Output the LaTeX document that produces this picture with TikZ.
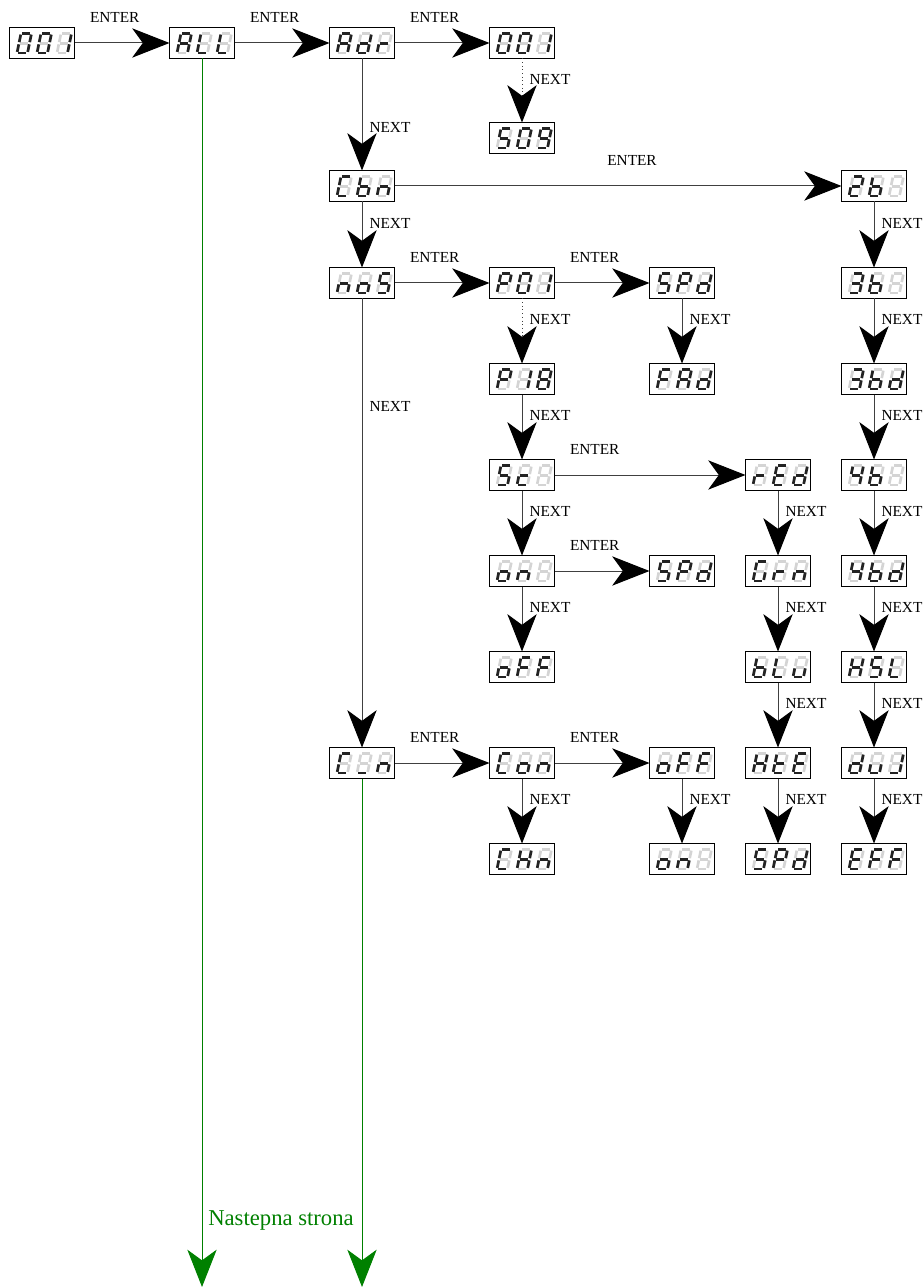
\documentclass[tikz,border=0pt]{standalone}
\usepackage{fontspec}
\setmainfont{Liberation Serif}
\usetikzlibrary{arrows.meta}

\definecolor{segdark}{RGB}{35,35,35}
\definecolor{seglight}{RGB}{212,212,212}
\definecolor{pagegreen}{RGB}{0,128,0}

\tikzset{
  disp/.style={draw=black, line width=1.1pt, fill=white, minimum width=48.75pt,
    minimum height=23.25pt, inner sep=0pt, outer sep=0pt},
  segoff/.style={draw=seglight, line width=2pt, shorten >=0.85pt, shorten <=0.85pt},
  segon/.style={segoff, draw=segdark},
  conn/.style={draw=black!75, line width=0.75pt,
    -{Stealth[length=28pt, width=22pt, inset=8pt, color=black]}},
  dotconn/.style={conn, dotted},
  pageconn/.style={draw=pagegreen, line width=0.75pt,
    -{Stealth[length=28pt, width=22pt, inset=8pt, color=pagegreen]}},
  lbl/.style={font=\fontsize{11.5}{13}\selectfont, inner sep=0pt},
  enterlbl/.style={lbl, pos=0, anchor=west, xshift=11.25pt, yshift=19.5pt},
  nextlbl/.style={lbl, anchor=west, xshift=5.25pt, pos=#1},
  nextlbl/.default=0.33
}

% one slanted seven segment digit, #1 = x of lower left, #2 = lit segments
\newcommand{\segdigit}[2]{%
  \coordinate (a1) at ({#1+4},6);      \coordinate (a2) at ({#1+14.5},6);
  \coordinate (b1) at ({#1+14.5},6);   \coordinate (b2) at ({#1+12.5},15.75);
  \coordinate (c1) at ({#1+12.5},15.75);\coordinate (c2) at ({#1+10.5},25.5);
  \coordinate (d1) at (#1,25.5);       \coordinate (d2) at ({#1+10.5},25.5);
  \coordinate (e1) at ({#1+2},15.75);  \coordinate (e2) at (#1,25.5);
  \coordinate (f1) at ({#1+4},6);      \coordinate (f2) at ({#1+2},15.75);
  \coordinate (g1) at ({#1+2},15.75);  \coordinate (g2) at ({#1+12.5},15.75);
  \foreach \s in {a,...,g} \draw[segoff] (\s1) -- (\s2);
  \foreach \s in {#2} {\ifx\s\empty\else\draw[segon] (\s1) -- (\s2);\fi}%
}

% display box with three digits
\newcommand{\dispbox}[5]{%
  \node[disp] (#1) at (#2) {};
  \begin{scope}[shift={(#1.north west)}]
    \segdigit{7.5}{#3}\segdigit{27.5}{#4}\segdigit{47.5}{#5}
  \end{scope}}

\begin{document}
\begin{tikzpicture}[x=0.75pt, y=-0.75pt]
\useasboundingbox (0,0) rectangle (923,1287);

% top row
\dispbox{b001a}{42,43}{a,b,c,d,e,f}{a,b,c,d,e,f}{b,c}
\dispbox{bALL}{202,43}{a,b,c,e,f,g}{d,e,f}{d,e,f}
\dispbox{bAdr}{362,43}{a,b,c,e,f,g}{b,c,d,e,g}{e,g}
\dispbox{b001b}{522,43}{a,b,c,d,e,f}{a,b,c,d,e,f}{b,c}
\dispbox{bS09}{522,138}{a,c,d,f,g}{a,b,c,d,e,f}{a,b,c,d,f,g}

% main column
\dispbox{bCbn}{362,186}{a,d,e,f}{c,d,e,f,g}{c,e,g}
\dispbox{bnoS}{362,283}{c,e,g}{c,d,e,g}{a,c,d,f,g}
\dispbox{bCln}{362,763}{a,d,e,f}{d}{c,e,g}

% presets
\dispbox{bP01}{522,283}{a,b,e,f,g}{a,b,c,d,e,f}{b,c}
\dispbox{bSPda}{682,283}{a,c,d,f,g}{a,b,e,f,g}{b,c,d,e,g}
\dispbox{bP18}{522,379}{a,b,e,f,g}{b,c}{a,b,c,d,e,f,g}
\dispbox{bFAd}{682,379}{a,e,f,g}{a,b,c,e,f,g}{b,c,d,e,g}
\dispbox{bSc}{522,475}{a,c,d,f,g}{d,e,g}{}
\dispbox{bon}{522,571}{c,d,e,g}{c,e,g}{}
\dispbox{bSPdb}{682,571}{a,c,d,f,g}{a,b,e,f,g}{b,c,d,e,g}
\dispbox{boFFa}{522,667}{c,d,e,g}{a,e,f,g}{a,e,f,g}

% colours
\dispbox{brEd}{778,475}{e,g}{a,d,e,f,g}{b,c,d,e,g}
\dispbox{bGrn}{778,571}{a,c,d,e,f}{e,g}{c,e,g}
\dispbox{bbLu}{778,667}{c,d,e,f,g}{d,e,f}{c,d,e}
\dispbox{bHtE}{778,763}{b,c,e,f,g}{d,e,f,g}{a,d,e,f,g}
\dispbox{bSPdc}{778,859}{a,c,d,f,g}{a,b,e,f,g}{b,c,d,e,g}

% modes
\dispbox{b2b}{874,186}{a,b,d,e,g}{c,d,e,f,g}{}
\dispbox{b3b}{874,283}{a,b,c,d,g}{c,d,e,f,g}{}
\dispbox{b3bd}{874,379}{a,b,c,d,g}{c,d,e,f,g}{b,c,d,e,g}
\dispbox{b4b}{874,475}{b,c,f,g}{c,d,e,f,g}{}
\dispbox{b4bd}{874,571}{b,c,f,g}{c,d,e,f,g}{b,c,d,e,g}
\dispbox{bHSL}{874,667}{b,c,e,f,g}{a,c,d,f,g}{d,e,f}
\dispbox{bdUJ}{874,763}{b,c,d,e,g}{c,d,e}{b,c,d}
\dispbox{bEFF}{874,859}{a,d,e,f,g}{a,e,f,g}{a,e,f,g}

% channel
\dispbox{bCon}{522,763}{a,d,e,f}{c,d,e,g}{c,e,g}
\dispbox{bCHn}{522,859}{a,d,e,f}{b,c,e,f,g}{c,e,g}
\dispbox{boFFb}{682,763}{c,d,e,g}{a,e,f,g}{a,e,f,g}
\dispbox{bonb}{682,859}{c,d,e,g}{c,e,g}{}

% ENTER
\draw[conn] (b001a) -- node[enterlbl] {ENTER} (bALL);
\draw[conn] (bALL) -- node[enterlbl] {ENTER} (bAdr);
\draw[conn] (bAdr) -- node[enterlbl] {ENTER} (b001b);
\draw[conn] (bCbn) -- node[lbl, pos=0.5, xshift=10.5pt, yshift=19.5pt] {ENTER} (b2b);
\draw[conn] (bnoS) -- node[enterlbl] {ENTER} (bP01);
\draw[conn] (bP01) -- node[enterlbl] {ENTER} (bSPda);
\draw[conn] (bSc) -- node[enterlbl] {ENTER} (brEd);
\draw[conn] (bon) -- node[enterlbl] {ENTER} (bSPdb);
\draw[conn] (bCln) -- node[enterlbl] {ENTER} (bCon);
\draw[conn] (bCon) -- node[enterlbl] {ENTER} (boFFb);

% NEXT
\draw[dotconn] (b001b) -- node[nextlbl] {NEXT} (bS09);
\draw[conn] (bAdr) -- node[nextlbl=0.62] {NEXT} (bCbn);
\draw[conn] (bCbn) -- node[nextlbl] {NEXT} (bnoS);
\draw[conn] (bnoS) -- node[nextlbl=0.24] {NEXT} (bCln);
\draw[dotconn] (bP01) -- node[nextlbl] {NEXT} (bP18);
\draw[conn] (bP18) -- node[nextlbl] {NEXT} (bSc);
\draw[conn] (bSc) -- node[nextlbl] {NEXT} (bon);
\draw[conn] (bon) -- node[nextlbl] {NEXT} (boFFa);
\draw[conn] (bSPda) -- node[nextlbl] {NEXT} (bFAd);
\draw[conn] (brEd) -- node[nextlbl] {NEXT} (bGrn);
\draw[conn] (bGrn) -- node[nextlbl] {NEXT} (bbLu);
\draw[conn] (bbLu) -- node[nextlbl] {NEXT} (bHtE);
\draw[conn] (bHtE) -- node[nextlbl] {NEXT} (bSPdc);
\draw[conn] (b2b) -- node[nextlbl] {NEXT} (b3b);
\draw[conn] (b3b) -- node[nextlbl] {NEXT} (b3bd);
\draw[conn] (b3bd) -- node[nextlbl] {NEXT} (b4b);
\draw[conn] (b4b) -- node[nextlbl] {NEXT} (b4bd);
\draw[conn] (b4bd) -- node[nextlbl] {NEXT} (bHSL);
\draw[conn] (bHSL) -- node[nextlbl] {NEXT} (bdUJ);
\draw[conn] (bdUJ) -- node[nextlbl] {NEXT} (bEFF);
\draw[conn] (bCon) -- node[nextlbl] {NEXT} (bCHn);
\draw[conn] (boFFb) -- node[nextlbl] {NEXT} (bonb);

% next page
\coordinate (endALL) at (202,1287);
\coordinate (endCln) at (362,1287);
\draw[pageconn] (bALL) -- (endALL);
\draw[pageconn] (bCln) -- (endCln);
\node[font=\fontsize{17}{20}\selectfont, text=pagegreen, inner sep=0pt] (nextpage) at (281,1220) {Nastepna strona};
\end{tikzpicture}
\end{document}
